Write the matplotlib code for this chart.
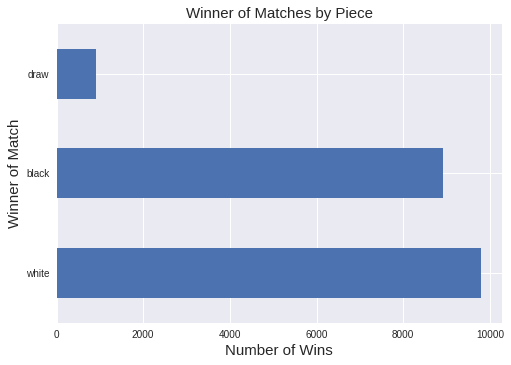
import matplotlib
matplotlib.use("Agg")
import matplotlib.pyplot as plt

categories = ["white", "black", "draw"]
wins = [9790, 8920, 920]

plt.rcParams['font.family'] = ['Liberation Sans', 'DejaVu Sans']

fig = plt.figure(figsize=(511/72, 365/72), dpi=72)
ax = fig.add_axes([56.5/511, 1 - 322.7/365, (502 - 56.5)/511, (322.7 - 24)/365])
ax.set_facecolor('#EAEAF2')
ax.barh(range(len(categories)), wins, height=0.5, color='#4C72B0', zorder=2)
ax.set_yticks(range(len(categories)))
ax.set_yticklabels(categories)
ax.set_ylim(-0.5, len(categories) - 0.5)
ax.grid(True, color='white', linewidth=1, zorder=0)
ax.set_axisbelow(True)
for s in ax.spines.values():
    s.set_visible(False)
ax.tick_params(length=0, labelsize=10, colors='#262626', pad=7)
ax.set_xlabel('Number of Wins', fontsize=15, color='#262626')
ax.set_ylabel('Winner of Match', fontsize=15, color='#262626')
ax.set_title('Winner of Matches by Piece', fontsize=15, color='#262626')
fig.savefig('out.png', dpi=72)
